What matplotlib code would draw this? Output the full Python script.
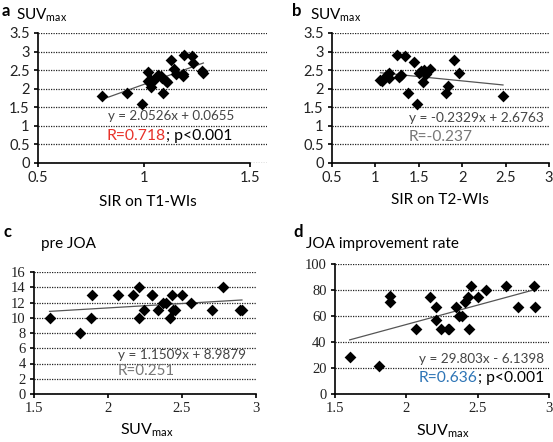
import matplotlib
matplotlib.use("Agg")
import matplotlib.pyplot as plt

plt.rcParams['font.family'] = ['Lato', 'DejaVu Sans']

# panel a: SIR on T1-WIs vs SUVmax
sir_t1 = [0.80, 0.92, 0.99, 1.02, 1.02, 1.03, 1.035, 1.04, 1.035, 1.067, 1.08, 1.087,
          1.09, 1.106, 1.11, 1.125, 1.14, 1.15, 1.19, 1.182, 1.185, 1.228, 1.232, 1.275, 1.28]
suv_a = [1.80, 1.88, 1.59, 2.45, 2.22, 2.15, 2.24, 2.20, 2.05, 2.38, 2.33, 2.28,
         1.88, 2.20, 2.17, 2.77, 2.53, 2.40, 2.90, 2.40, 2.33, 2.87, 2.69, 2.49, 2.42]

# panel b: SIR on T2-WIs vs SUVmax
sir_t2 = [1.058, 1.077, 1.135, 1.154, 1.16, 1.25, 1.27, 1.296, 1.338, 1.373, 1.45, 1.477,
          1.50, 1.527, 1.546, 1.565, 1.585, 1.63, 1.815, 1.835, 1.90, 1.96, 2.47]
suv_b = [2.24, 2.20, 2.38, 2.29, 2.43, 2.90, 2.31, 2.38, 2.87, 1.885, 2.71, 1.59,
         2.42, 2.47, 2.17, 2.50, 2.40, 2.53, 1.885, 2.06, 2.78, 2.42, 1.80]

# panel c: SUVmax vs pre JOA
suv_c = [1.605, 1.81, 1.886, 1.89, 2.07, 2.17, 2.207, 2.21, 2.24, 2.295, 2.30, 2.34,
         2.37, 2.39, 2.42, 2.43, 2.44, 2.45, 2.50, 2.56, 2.70, 2.78, 2.895, 2.905]
pre_joa = [10, 8, 10, 13, 13, 13, 14, 10, 11, 13, 13, 11,
           12, 12, 10, 13, 11, 11, 13, 12, 11, 14, 11, 11]

# panel d: SUVmax vs JOA improvement rate
suv_d = [1.603, 1.81, 1.887, 1.887, 2.07, 2.165, 2.21, 2.21, 2.24, 2.29, 2.30, 2.35,
         2.367, 2.39, 2.41, 2.43, 2.44, 2.45, 2.50, 2.56, 2.70, 2.78, 2.895, 2.905]
joa_rate = [28.2, 21.8, 75.6, 70.8, 50.3, 75, 66.7, 57, 50, 50, 50, 66.7,
            60, 60, 70.8, 75, 50, 83.3, 75, 80, 83.3, 66.7, 83.3, 66.7]

W, H = 553, 442
fig = plt.figure(figsize=(W / 100, H / 100), dpi=100)
renderer = fig.canvas.get_renderer()


def box(l, t, r, b):
    return [l / W, 1 - b / H, (r - l) / W, (b - t) / H]


def panel(rect, x, y, slope, icpt, xlim, xticks, ylim, yticks, tickfont):
    ax = fig.add_axes(box(*rect))
    ax.scatter(x, y, marker='D', s=36, color='black', zorder=3, linewidths=0)
    x0, x1 = min(x), max(x)
    ax.plot([x0, x1], [slope * x0 + icpt, slope * x1 + icpt], color='#555555', lw=0.9, zorder=2)
    ax.set_xlim(*xlim)
    ax.set_ylim(*ylim)
    ax.set_xticks(xticks)
    ax.set_yticks(yticks)
    ax.set_xticklabels([f'{v:g}' for v in xticks], family=tickfont)
    ax.set_yticklabels([f'{v:g}' for v in yticks], family=tickfont)
    for s in ['top', 'right']:
        ax.spines[s].set_visible(False)
    ax.spines['bottom'].set_bounds(xticks[0], xticks[-1])
    for s in ['left', 'bottom']:
        ax.spines[s].set_linewidth(1.2)
    ax.yaxis.grid(True, linestyle=(0, (1, 1)), color='#222222', lw=0.9)
    ax.set_axisbelow(True)
    ax.tick_params(labelsize=10.5, length=3, width=1.2, colors='black', pad=3)
    ax.tick_params(labelcolor='#222222')
    return ax


axa = panel((38, 33, 267, 163), sir_t1, suv_a, 2.0526, 0.0655, (0.5, 1.58), [0.5, 1, 1.5],
            (0, 3.5), [0, 0.5, 1, 1.5, 2, 2.5, 3, 3.5], 'Lato')
axb = panel((332, 33, 549, 163), sir_t2, suv_b, -0.2329, 2.6763, (0.5, 3), [0.5, 1, 1.5, 2, 2.5, 3],
            (0, 3.5), [0, 0.5, 1, 1.5, 2, 2.5, 3, 3.5], 'Lato')
axc = panel((34, 272, 256, 394), suv_c, pre_joa, 1.1509, 8.9879, (1.5, 3), [1.5, 2, 2.5, 3],
            (0, 16), [0, 2, 4, 6, 8, 10, 12, 14, 16], 'Liberation Serif')
axd = panel((335, 264, 549, 394), suv_d, joa_rate, 29.803, -6.1398, (1.5, 3), [1.5, 2, 2.5, 3],
            (0, 100), [0, 20, 40, 60, 80, 100], 'Liberation Serif')

suv = r'SUV$_{\mathregular{max}}$'


def px(x, y, s, **kw):
    return fig.text(x / W, 1 - y / H, s, **kw)


def fit_size(s, width):
    # font size at which s is about `width` pixels wide
    t = fig.text(0, 0, s, fontsize=10)
    w = t.get_window_extent(renderer).width
    t.remove()
    return 10 * width / w


def line(x, y, parts, width):
    # one line of text in several colours, scaled to the given width
    size = fit_size(''.join(s for s, _ in parts), width)
    t = px(x, y, parts[0][0], fontsize=size, color=parts[0][1], va='center')
    for s, c in parts[1:]:
        t = fig.add_artist(plt.Annotation(s, xy=(1, 0), xycoords=t, va='bottom',
                                          fontsize=size, color=c))


# panel letters and axis titles
for lx, ly, letter in [(2, 11, 'a'), (292, 11, 'b'), (3, 232, 'c'), (293, 232, 'd')]:
    px(lx, ly, letter, fontsize=12, fontweight='bold', va='center')
px(16, 15, suv, fontsize=11, va='center')
px(310, 15, suv, fontsize=11, va='center')
px(41, 244, 'pre JOA', fontsize=11, va='center')
px(306, 244, 'JOA improvement rate', fontsize=11, va='center')

px(148, 202, 'SIR on T1-WIs', fontsize=fit_size('SIR on T1-WIs', 98), ha='center', va='center')
px(440, 200, 'SIR on T2-WIs', fontsize=fit_size('SIR on T2-WIs', 98), ha='center', va='center')
px(147, 430, suv, fontsize=11.5, ha='center', va='center')
px(443, 431, suv, fontsize=11.5, ha='center', va='center')

# equations and correlations
eqc = '#444444'
line(108, 116, [('y = 2.0526x + 0.0655', eqc)], 127)
line(107, 136, [('R=0.718', '#e8322a'), ('; p<0.001', 'black')], 125)

line(409, 118, [('y = -0.2329x + 2.6763', eqc)], 134)
line(409, 137, [('R=-0.237', '#777777')], 64)

line(118, 355, [('y = 1.1509x + 8.9879', eqc)], 127)
line(118, 371, [('R=0.251', '#777777')], 57)

line(419, 359, [('y = 29.803x - 6.1398', eqc)], 124)
line(419, 378, [('R=0.636', '#2e75b6'), ('; p<0.001', 'black')], 124)

fig.savefig('out.png', dpi=100)
